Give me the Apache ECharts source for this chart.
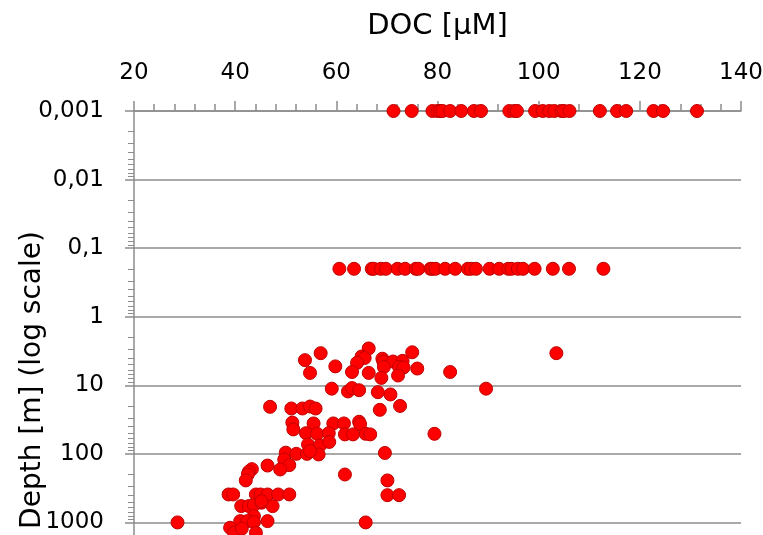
<!DOCTYPE html>
<html>
<head>
<meta charset="utf-8">
<script src="https://cdn.jsdelivr.net/npm/echarts@6/dist/echarts.min.js"></script>
<style>
  html, body { margin: 0; padding: 0; background: #fff; }
  #chart { width: 763px; height: 535px; }
</style>
</head>
<body>
<div id="chart"></div>
<script>
// DOC [µM] of surface samples, plotted at 0.001 m
var surfaceDoc = [71.3, 74.9, 79.0, 80.0, 80.5, 81.0, 82.5, 84.7, 87.2, 88.6, 94.2, 95.2, 95.7,
  99.3, 100.8, 102.1, 103.1, 104.5, 105.0, 106.1, 112.1, 115.5, 117.3, 122.7, 124.6, 131.3]
var surfaceDepth = 0.001

// DOC at 0.2 m
var shallowDoc = [60.6, 63.5, 67.0, 67.4, 68.8, 69.8, 72.1, 73.6, 75.7, 76.2, 78.6, 79.0, 79.6,
  81.5, 83.5, 86.0, 86.6, 87.6, 90.3, 92.2, 94.0, 94.6, 95.9, 96.9, 99.2, 102.8, 106.0, 112.8]
var shallowDepth = 0.2

// depth profile samples
var profileDoc = [53.8, 56.9, 54.8, 59.8, 66.4, 65.0, 65.6, 64.1, 63.1, 66.4, 69.1, 69.3, 71.2,
  73.1, 75.0, 69.4, 72.4, 73.3, 76.0, 68.9, 72.2, 59.1, 62.3, 63.1, 64.5, 68.2, 70.7, 68.6, 72.6,
  82.5, 103.5, 89.6, 46.9, 51.1, 53.3, 54.8, 55.9, 51.3, 51.5, 55.5, 59.4, 61.5, 64.5, 64.7,
  54.0, 56.2, 58.5, 61.7, 63.3, 65.8, 66.7, 54.4, 56.8, 58.6, 50.0, 52.1, 54.2, 56.5, 54.8,
  69.6, 49.7, 50.7, 46.4, 48.9, 43.3, 42.7, 61.7, 42.5, 42.1, 70.1, 70.1, 72.4, 28.6, 65.8,
  38.7, 39.6, 44.1, 45.0, 46.4, 48.5, 50.7, 41.2, 42.7, 43.7, 45.2, 47.4, 43.7, 41.0, 42.4,
  43.7, 46.4, 39.0, 39.8, 41.3, 44.1, 79.4, 45.2]
var profileDepth = [4.3, 3.4, 6.6, 5.3, 2.9, 3.8, 4.0, 4.7, 6.4, 6.6, 4.1, 4.5, 4.5,
  4.4, 3.3, 5.4, 5.4, 5.5, 5.7, 7.8, 7.2, 11.2, 12.3, 11, 11.8, 12.6, 13.6, 22.8, 20,
  6.4, 3.4, 11.2, 20.6, 21.8, 21.8, 20.4, 21.8, 35, 44, 36, 36, 36, 34, 37,
  50, 51, 50, 52, 52, 51, 52, 73, 75, 67, 96, 100, 100, 102, 91,
  97, 121, 146, 148, 169, 167, 182, 200, 200, 244, 244, 400, 400, 1000, 1000,
  391, 391, 391, 391, 391, 391, 391, 578, 578, 560, 516, 578, 810, 957, 957,
  990, 957, 1195, 1414, 1236, 1414, 51, 490]

var xTicks = { min: 20, max: 140, step: 20 }
var yRange = { min: 0.001, max: 10000 }

var points = []
surfaceDoc.forEach(function (d) { points.push([d, surfaceDepth]) })
shallowDoc.forEach(function (d) { points.push([d, shallowDepth]) })
profileDoc.forEach(function (d, i) { points.push([d, profileDepth[i]]) })

var gray = '#8c8c8c'
var font = 'DejaVu Sans'

var chart = echarts.init(document.getElementById('chart'), null, { renderer: 'canvas' })

var option = {
  backgroundColor: '#fff',
  animation: false,
  grid: {
    left: 134,
    top: 111,
    right: 22,
    height: 480,
    containLabel: false,
    outerBoundsMode: 'none'
  },
  xAxis: {
    type: 'value',
    position: 'top',
    min: xTicks.min,
    max: xTicks.max,
    interval: xTicks.step,
    name: 'DOC [μM]',
    nameLocation: 'middle',
    nameGap: 70,
    nameTextStyle: { fontFamily: font, fontSize: 29, color: '#000' },
    axisLine: { lineStyle: { color: gray, width: 1.5 } },
    axisTick: { show: true, length: 10, lineStyle: { color: gray, width: 1.5 } },
    minorTick: { show: true, splitNumber: 5, length: 7, lineStyle: { color: gray, width: 1.5 } },
    axisLabel: { fontFamily: font, fontSize: 23, color: '#000', margin: 26 },
    splitLine: { show: false }
  },
  yAxis: {
    type: 'log',
    logBase: 10,
    inverse: true,
    min: yRange.min,
    max: yRange.max,
    axisLine: { show: true, lineStyle: { color: gray, width: 1.5 } },
    axisTick: { show: true, length: 9, lineStyle: { color: gray, width: 1.5 } },
    minorTick: { show: true, splitNumber: 9, length: 6, lineStyle: { color: gray, width: 1 } },
    axisLabel: {
      fontFamily: font, fontSize: 23, color: '#000', margin: 30,
      formatter: function (v) {
        return String(Number(v.toPrecision(4))).replace('.', ',')
      }
    },
    splitLine: { show: true, lineStyle: { color: gray, width: 1.5 } }
  },
  graphic: [{
    type: 'text',
    x: 33,
    y: 380,
    rotation: Math.PI / 2,
    style: {
      text: 'Depth [m] (log scale)',
      font: '28px "DejaVu Sans"',
      fill: '#000',
      align: 'center',
      verticalAlign: 'middle'
    }
  }],
  series: [{
    type: 'scatter',
    data: points,
    symbol: 'circle',
    symbolSize: 13,
    itemStyle: {
      color: '#ff0000',
      borderColor: '#c00000',
      borderWidth: 1,
      opacity: 1
    }
  }]
}

chart.setOption(option)
</script>
</body>
</html>
